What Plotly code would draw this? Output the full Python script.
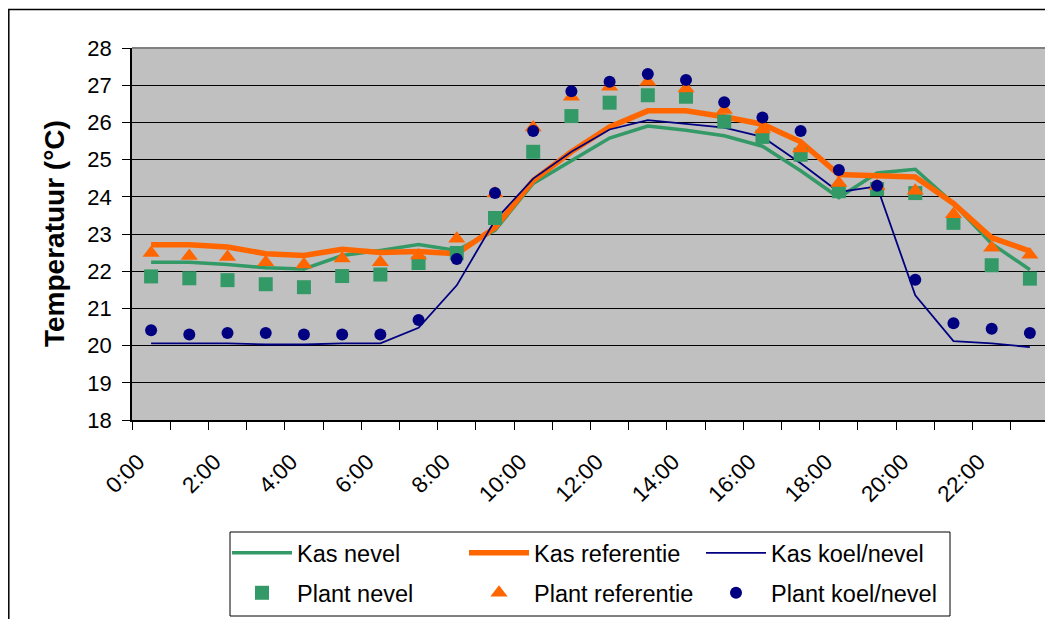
import plotly.graph_objects as go

hours = [f"{h}:00" for h in range(24)]
tick_labels = [f"{h}:00" for h in range(0, 24, 2)]

kas_nevel = [22.24, 22.24, 22.18, 22.09, 22.06, 22.42, 22.56, 22.72, 22.56, 23.10, 24.36, 24.98,
             25.58, 25.90, 25.79, 25.64, 25.36, 24.70, 23.98, 24.64, 24.74, 23.82, 22.74, 22.04]
kas_referentie = [22.71, 22.71, 22.65, 22.47, 22.42, 22.59, 22.50, 22.53, 22.47, 23.17, 24.44, 25.21,
                  25.88, 26.31, 26.31, 26.15, 25.95, 25.48, 24.60, 24.58, 24.53, 23.82, 22.90, 22.54]
kas_koel_nevel = [20.06, 20.06, 20.06, 20.03, 20.03, 20.06, 20.06, 20.48, 21.62, 23.37, 24.49, 25.21,
                  25.81, 26.06, 25.97, 25.86, 25.61, 24.90, 24.13, 24.28, 21.35, 20.12, 20.06, 19.96]
plant_nevel = [21.86, 21.81, 21.76, 21.65, 21.57, 21.87, 21.91, 22.22, 22.49, 23.43, 25.21, 26.17,
               26.53, 26.73, 26.69, 26.02, 25.61, 25.13, 24.15, 24.21, 24.10, 23.30, 22.16, 21.80]
plant_referentie = [22.49, 22.41, 22.38, 22.24, 22.18, 22.34, 22.24, 22.42, 22.87, 24.09, 25.86, 26.69,
                    26.96, 27.09, 26.91, 26.33, 25.81, 25.30, 24.37, 24.29, 24.16, 23.53, 22.63, 22.44]
plant_koel_nevel = [20.41, 20.30, 20.34, 20.34, 20.30, 20.30, 20.30, 20.69, 22.33, 24.10, 25.77, 26.84,
                    27.09, 27.30, 27.14, 26.54, 26.13, 25.77, 24.72, 24.30, 21.77, 20.60, 20.45, 20.34]

GREEN = "#339966"
ORANGE = "#FF6600"
NAVY = "#000080"

xpos = [i + 0.5 for i in range(len(hours))]
tickpos = [hours.index(t) + 0.5 for t in tick_labels]

fig = go.Figure()
fig.add_trace(go.Scatter(x=xpos, y=kas_nevel, mode="lines", name="Kas nevel",
                         line=dict(color=GREEN, width=3.5), legend="legend"))
fig.add_trace(go.Scatter(x=xpos, y=kas_referentie, mode="lines", name="Kas referentie",
                         line=dict(color=ORANGE, width=5.5), legend="legend"))
fig.add_trace(go.Scatter(x=xpos, y=kas_koel_nevel, mode="lines", name="Kas koel/nevel",
                         line=dict(color=NAVY, width=1.8), legend="legend"))
fig.add_trace(go.Scatter(x=xpos, y=plant_nevel, mode="markers", name="Plant nevel",
                         marker=dict(symbol="square", color=GREEN, size=14), legend="legend2"))
fig.add_trace(go.Scatter(x=xpos, y=plant_referentie, mode="markers", name="Plant referentie",
                         marker=dict(symbol="triangle-up", color=ORANGE, size=15), legend="legend2"))
fig.add_trace(go.Scatter(x=xpos, y=plant_koel_nevel, mode="markers", name="Plant koel/nevel",
                         marker=dict(symbol="circle", color=NAVY, size=12), legend="legend2"))

# figure is placed at (8, 8) in the page by the default body margin
W, H = 1045, 611
L, T = 124, 40
pw, ph = 917, 372
R = W - L - pw
B = H - T - ph


def px(x):
    return (x - L) / pw


def py(y):
    return (T + ph - y) / ph


legend_common = dict(
    orientation="h", xanchor="left", yanchor="middle",
    bgcolor="rgba(0,0,0,0)", borderwidth=0,
    entrywidth=162, entrywidthmode="pixels",
    font=dict(size=23.5, family="Liberation Sans, Arial", color="black"),
    itemwidth=60,
)

fig.update_layout(
    width=W, height=H,
    margin=dict(l=L, r=R, t=T, b=B, autoexpand=False),
    paper_bgcolor="white",
    plot_bgcolor="#C0C0C0",
    font=dict(family="Liberation Sans, Arial", size=22, color="black"),
    showlegend=True,
    legend=dict(x=px(219), y=py(545), **legend_common),
    legend2=dict(x=px(219), y=py(585), **legend_common),
    xaxis=dict(
        range=[0, 24], tickmode="array", tickvals=tickpos, ticktext=tick_labels,
        tickangle=-45, ticks="", showgrid=False, zeroline=False,
        showline=True, linecolor="black", linewidth=1.5,
        tickfont=dict(size=22.5),
        ticklabelstandoff=18, ticklabelshift=-13,
        minor=dict(tickmode="linear", tick0=0, dtick=1, ticks="outside", ticklen=8,
                   tickcolor="black", tickwidth=1, showgrid=False),
    ),
    yaxis=dict(
        range=[18, 28], dtick=1, tick0=18, ticks="outside", ticklen=8, tickcolor="black",
        showgrid=True, gridcolor="black", gridwidth=1, zeroline=False,
        showline=True, linecolor="black", linewidth=1.5,
        tickfont=dict(size=22), ticklabelstandoff=6,
    ),
    shapes=[
        dict(type="line", xref="paper", yref="paper", x0=0, x1=1, y0=1, y1=1,
             line=dict(color="#808080", width=2)),
        dict(type="line", xref="paper", yref="paper", x0=1, x1=1, y0=0, y1=1,
             line=dict(color="#808080", width=2)),
        dict(type="rect", xref="paper", yref="paper", x0=px(0.8), x1=px(1070), y0=py(640), y1=py(1.5),
             line=dict(color="black", width=1.5), fillcolor="rgba(0,0,0,0)"),
        dict(type="rect", xref="paper", yref="paper", x0=px(222), x1=px(942), y0=py(608), y1=py(524),
             line=dict(color="black", width=1), fillcolor="white", layer="below"),
    ],
    annotations=[
        dict(text="<b>Temperatuur (°C)</b>", xref="paper", yref="paper", x=px(46), y=0.5,
             textangle=-90, showarrow=False, font=dict(size=28, family="Liberation Sans, Arial"),
             xanchor="center", yanchor="middle"),
    ],
)

fig.write_html("out.html")
